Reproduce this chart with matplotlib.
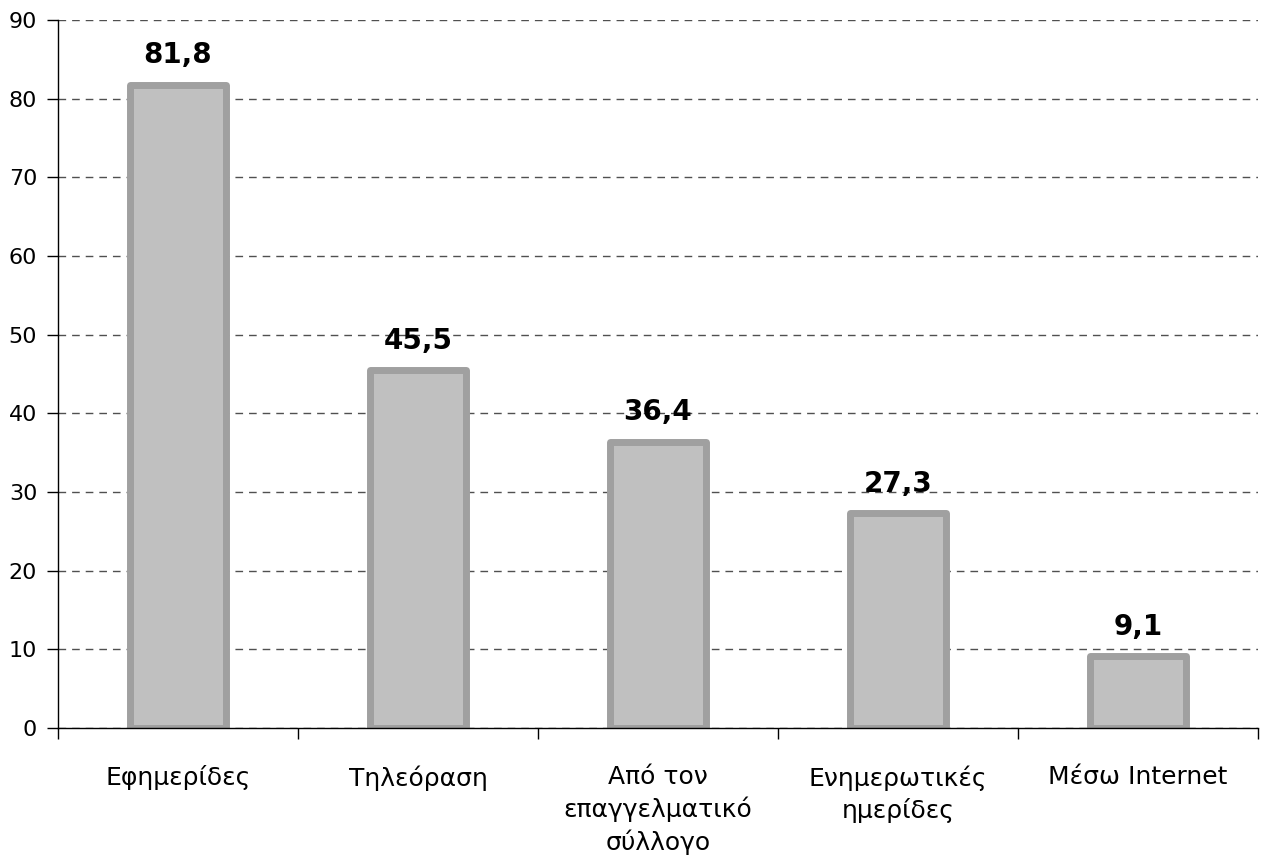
import matplotlib
matplotlib.use("Agg")
import matplotlib.pyplot as plt
from matplotlib.ticker import FixedLocator

categories = ["Εφημερίδες", "Τηλεόραση", "Από τον\nεπαγγελματικό\nσύλλογο",
              "Ενημερωτικές\nημερίδες", "Μέσω Internet"]
values = [81.8, 45.5, 36.4, 27.3, 9.1]
value_labels = ["81,8", "45,5", "36,4", "27,3", "9,1"]
yticks = [0, 10, 20, 30, 40, 50, 60, 70, 80, 90]

plt.rcParams['font.family'] = ['DejaVu Sans']

fig = plt.figure(figsize=(12.62, 8.68), dpi=100)
ax = fig.add_axes([58/1262, 1-728/868, 1200/1262, 708/868])

x = list(range(len(categories)))
ax.bar(x, values, width=0.40, color="#C0C0C0", edgecolor="#A0A0A0",
       linewidth=5, joinstyle="round", zorder=3)

for xi, v, lab in zip(x, values, value_labels):
    ax.annotate(lab, (xi, v), xytext=(0, 11), textcoords="offset points",
                ha="center", va="bottom", fontsize=20, fontweight="bold",
                color="black", zorder=4)

ax.set_xlim(-0.5, len(categories) - 0.5)
ax.set_ylim(0, 90)
ax.set_yticks(yticks)
ax.yaxis.grid(True, linestyle=(0, (5.5, 4.3)), color="#505050", linewidth=1.0, zorder=0)
ax.set_axisbelow(True)

ax.xaxis.set_major_locator(FixedLocator([i - 0.5 for i in range(len(categories) + 1)]))
ax.xaxis.set_minor_locator(FixedLocator(x))
ax.set_xticklabels([])
ax.set_xticklabels(categories, minor=True, fontsize=18, linespacing=1.35)
ax.tick_params(axis="x", which="minor", length=0, pad=27)
ax.tick_params(axis="x", which="major", length=8, width=1, direction="out")
ax.tick_params(axis="y", length=8, width=1, direction="out", labelsize=16, pad=7)

for s in ["top", "right"]:
    ax.spines[s].set_visible(False)
ax.spines["left"].set_linewidth(1)
ax.spines["bottom"].set_linewidth(1)
ax.spines["left"].set_zorder(5)
ax.spines["bottom"].set_zorder(5)

fig.savefig("out.png", dpi=100)
